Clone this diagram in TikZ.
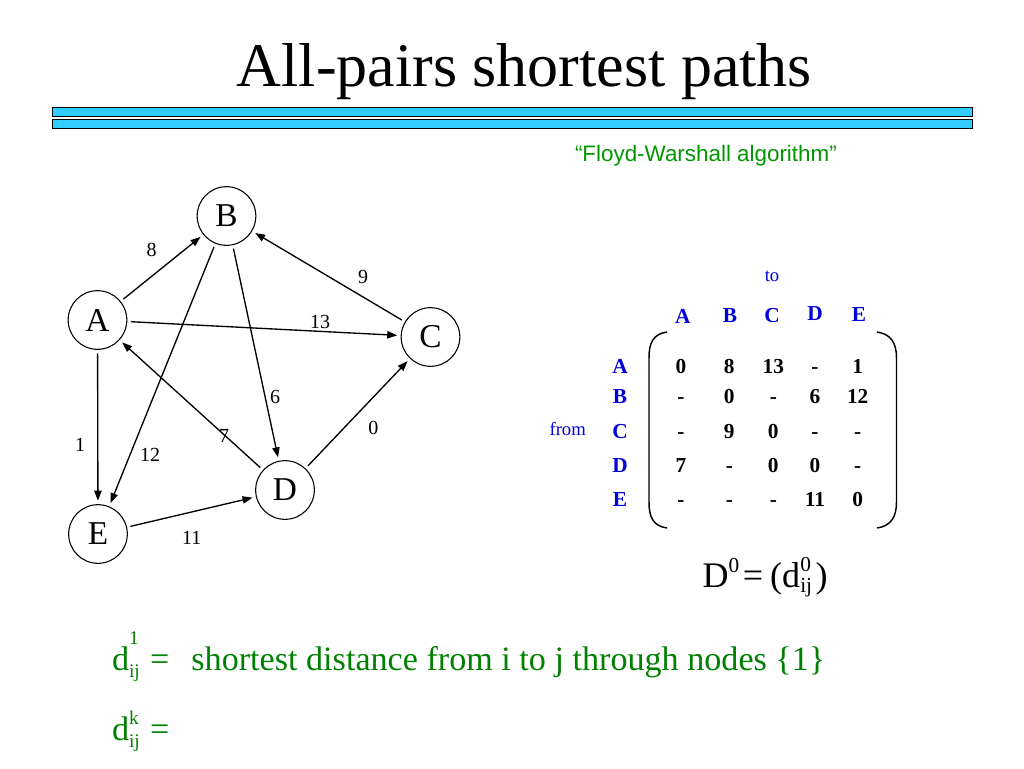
\documentclass[tikz,border=0pt]{standalone}
\usepackage{fontspec}
\setmainfont{Liberation Serif}
\newfontfamily\arialf{Liberation Sans}
\usetikzlibrary{arrows.meta}
\definecolor{barblue}{RGB}{51,204,255}
\definecolor{mblue}{RGB}{0,0,220}
\definecolor{fwgreen}{RGB}{0,150,0}
\definecolor{dgreen}{RGB}{0,128,0}
\newcommand{\fsz}[1]{\fontsize{#1}{#1}\selectfont}
\newcommand{\dsup}[5]{d\rlap{\raisebox{#4}{\fsz{#3}#1}}\raisebox{#5}{\fsz{#3}#2}}
\begin{document}
\begin{tikzpicture}[x=0.75pt,y=-0.75pt,
  txt/.style={inner sep=0pt,outer sep=0pt},
  vtx/.style={circle,draw,line width=0.8pt,minimum size=44pt,inner sep=0pt,outer sep=3pt,font=\fsz{25pt}},
  arc/.style={line width=1pt,-{Triangle[length=7.5pt,width=5.5pt]}},
  lbl/.style={inner sep=0pt,font=\fsz{15pt}},
  ent/.style={inner sep=0pt,anchor=base,font=\fsz{16pt}\bfseries},
  hdr/.style={ent,text=mblue},
  bar/.style={fill=barblue,draw=black,line width=0.7pt},
  brk/.style={line width=1.1pt}]
\useasboundingbox (0,0) rectangle (1024,768);
% title and bars
\node[txt,anchor=base,font=\fsz{46.5pt}] (title) at (524.5,86) {All-pairs shortest paths};
\draw[bar] (52,107) rectangle (972,116);
\draw[bar] (52,119) rectangle (972,128);
\node[txt,anchor=base west,font=\arialf\fsz{16.8pt},text=fwgreen] (fw) at (575,161) {“Floyd-Warshall algorithm”};
% graph
\node[vtx] (A) at (97.5,320) {A};
\node[vtx] (B) at (226.5,216) {B};
\node[vtx] (C) at (430.5,337) {C};
\node[vtx] (D) at (285,490) {D};
\node[vtx] (E) at (98,534) {E};
\draw[arc] (A) -- (B);
\draw[arc] (C) -- (B);
\draw[arc] (A) -- (C);
\draw[arc] (B) -- (D);
\draw[arc] (B) -- (E);
\draw[arc] (D) -- (A);
\draw[arc] (A) -- (E);
\draw[arc] (D) -- (C);
\draw[arc] (E) -- (D);
\node[lbl] (l8) at (151.7,250) {8};
\node[lbl] (l9) at (363,276.7) {9};
\node[lbl] (l13) at (320,321.7) {13};
\node[lbl] (l6) at (275,396.7) {6};
\node[lbl] (l12) at (150,455) {12};
\node[lbl] (l7) at (224,435.5) {7};
\node[lbl] (l1) at (80,445) {1};
\node[lbl] (l0) at (373.3,428.3) {0};
\node[lbl] (l11) at (191.7,538.3) {11};
% matrix
\node[txt,anchor=base,font=\fsz{14pt},text=mblue] (to) at (772,281) {to};
\node[txt,anchor=base,font=\fsz{14pt},text=mblue] (from) at (567.7,435) {from};
\node[hdr] (hA) at (682.7,323) {A};
\node[hdr] (hB) at (730,322) {B};
\node[hdr] (hC) at (772,322) {C};
\node[hdr] (hD) at (815,320) {D};
\node[hdr] (hE) at (859,321) {E};
\node[hdr] (rA) at (620,373) {A};
\node[hdr] (rB) at (620,403) {B};
\node[hdr] (rC) at (620,438) {C};
\node[hdr] (rD) at (620,472) {D};
\node[hdr] (rE) at (620,506) {E};
\foreach \x/\v [count=\c] in {681/0,729.3/8,773.3/13,815/-,857.7/1} \node[ent] (mA\c) at (\x,373) {\v};
\foreach \x/\v [count=\c] in {681/-,729.3/0,773.3/-,815/6,857.7/12} \node[ent] (mB\c) at (\x,403) {\v};
\foreach \x/\v [count=\c] in {681/-,729.3/9,773.3/0,815/-,857.7/-} \node[ent] (mC\c) at (\x,438) {\v};
\foreach \x/\v [count=\c] in {681/7,729.3/-,773.3/0,815/0,857.7/-} \node[ent] (mD\c) at (\x,472) {\v};
\foreach \x/\v [count=\c] in {681/-,729.3/-,773.3/-,815/11,857.7/0} \node[ent] (mE\c) at (\x,506) {\v};
\draw[brk] (667,332) .. controls (653,334) and (649,343) .. (649,358) -- (649,502) .. controls (649,517) and (653,526) .. (667,528);
\draw[brk] (877,332) .. controls (891,334) and (896.5,343) .. (896.5,358) -- (896.5,502) .. controls (896.5,517) and (891,526) .. (877,528);
\node[txt,anchor=base west,font=\fsz{27pt}] (dzero) at (702.5,587) {D\raisebox{0.39em}{\fsz{16pt}0}\hspace{0.1em}=\hspace{0.2em}(\dsup{0}{ij}{16pt}{0.42em}{-0.15em}\hspace{0.1em})};
% definitions
\node[txt,anchor=base west,font=\fsz{25.6pt},text=dgreen] (def1) at (112,670) {\dsup{1}{ij}{14.5pt}{0.74em}{-0.23em}\hspace{0.3em}=\hspace{0.65em}shortest distance from i to j through nodes \{1\}};
\node[txt,anchor=base west,font=\fsz{25.6pt},text=dgreen] (defk) at (112,740) {\dsup{k}{ij}{14.5pt}{0.44em}{-0.23em}\hspace{0.3em}=};
\end{tikzpicture}
\end{document}
